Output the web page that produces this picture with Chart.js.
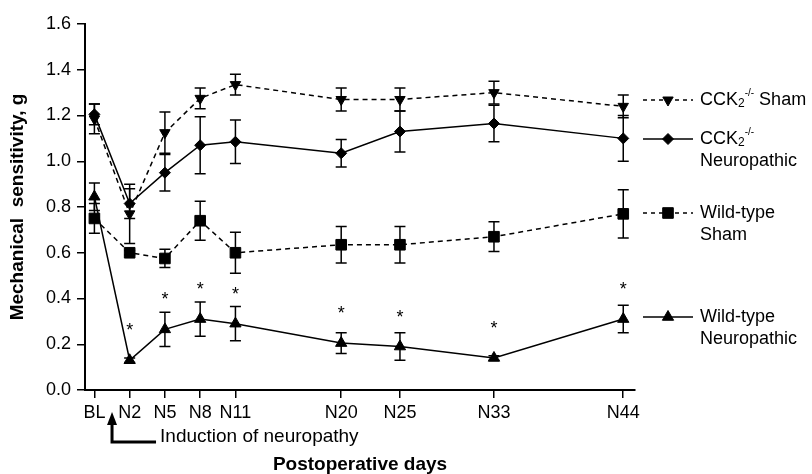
<!DOCTYPE html>
<html>
<head>
<meta charset="utf-8">
<script src="https://cdn.jsdelivr.net/npm/chart.js"></script>
<style>
  body { margin: 0; background: #fff; }
  canvas { display: block; }
</style>
</head>
<body>
<canvas id="chart" width="812" height="474"></canvas>
<script>
// Postoperative days (BL plotted one day before surgery)
const days = [-1, 2, 5, 8, 11, 20, 25, 33, 44];
const dayLabels = ['BL', 'N2', 'N5', 'N8', 'N11', 'N20', 'N25', 'N33', 'N44'];
const yTicks = [0, 0.2, 0.4, 0.6, 0.8, 1.0, 1.2, 1.4, 1.6];

// mean and SEM, g
const cckSham = [1.185, 0.77, 1.125, 1.275, 1.335, 1.27, 1.27, 1.30, 1.24];
const cckShamErr = [0.065, 0.13, 0.09, 0.045, 0.045, 0.05, 0.05, 0.05, 0.05];
const cckNeuro = [1.205, 0.815, 0.95, 1.07, 1.085, 1.035, 1.13, 1.165, 1.10];
const cckNeuroErr = [0.045, 0.065, 0.08, 0.125, 0.095, 0.06, 0.09, 0.08, 0.10];
const wtSham = [0.75, 0.60, 0.575, 0.74, 0.60, 0.635, 0.635, 0.67, 0.77];
const wtShamErr = [0.065, 0.01, 0.04, 0.085, 0.09, 0.08, 0.08, 0.065, 0.105];
const wtNeuro = [0.845, 0.13, 0.265, 0.31, 0.29, 0.205, 0.19, 0.14, 0.31];
const wtNeuroErr = [0.06, 0.01, 0.075, 0.075, 0.075, 0.045, 0.06, 0.01, 0.06];
// significance marks (*) for wild-type neuropathic
const wtNeuroSig = [0, 1, 1, 1, 1, 1, 1, 1, 1];

const FONT = "'Liberation Sans', Arial, sans-serif";
const DASH = [5, 4];

const series = [
  {values: cckSham, err: cckShamErr, style: 'triangle', rot: 180, r: 6, dash: DASH,
   legend: [[{t: 'CCK'}, {t: '2', sub: true}, {t: '-/-', sup: true}, {t: ' Sham'}]], ly: 100},
  {values: cckNeuro, err: cckNeuroErr, style: 'rectRot', rot: 0, r: 5.5, dash: [],
   legend: [[{t: 'CCK'}, {t: '2', sub: true}, {t: '-/-', sup: true}], [{t: 'Neuropathic'}]], ly: 139},
  {values: wtSham, err: wtShamErr, style: 'rect', rot: 0, r: 7.5, dash: DASH,
   legend: [[{t: 'Wild-type'}], [{t: 'Sham'}]], ly: 213},
  {values: wtNeuro, err: wtNeuroErr, sig: wtNeuroSig, style: 'triangle', rot: 0, r: 6.5, dash: [],
   legend: [[{t: 'Wild-type'}], [{t: 'Neuropathic'}]], ly: 317}
];

function drawMarker(ctx, s, x, y) {
  if (Chart.helpers && Chart.helpers.drawPoint) {
    ctx.fillStyle = '#000'; ctx.strokeStyle = '#000'; ctx.lineWidth = 1;
    ctx.setLineDash([]);
    Chart.helpers.drawPoint(ctx, {pointStyle: s.style, rotation: s.rot, radius: s.r, borderWidth: 1}, x, y);
  }
}

function drawRich(ctx, x, y, parts) {
  ctx.textAlign = 'left';
  ctx.textBaseline = 'middle';
  for (const p of parts) {
    let dy = 0;
    if (p.sub) { ctx.font = '12px ' + FONT; dy = 4; }
    else if (p.sup) { ctx.font = '10px ' + FONT; dy = -7; }
    else ctx.font = '18px ' + FONT;
    ctx.fillText(p.t, x, y + dy);
    x += ctx.measureText(p.t).width;
  }
}

const extras = {
  id: 'extras',
  afterDatasetsDraw(chart) {
    const ctx = chart.ctx;
    const xs = chart.scales.x, ys = chart.scales.y;
    ctx.save();
    ctx.strokeStyle = '#000';
    ctx.fillStyle = '#000';

    // error bars
    ctx.lineWidth = 1.5;
    ctx.setLineDash([]);
    series.forEach(s => {
      s.values.forEach((v, i) => {
        const x = xs.getPixelForValue(days[i]);
        const yt = ys.getPixelForValue(v + s.err[i]);
        const yb = ys.getPixelForValue(v - s.err[i]);
        ctx.beginPath();
        ctx.moveTo(x, yt); ctx.lineTo(x, yb);
        ctx.moveTo(x - 5.5, yt); ctx.lineTo(x + 5.5, yt);
        ctx.moveTo(x - 5.5, yb); ctx.lineTo(x + 5.5, yb);
        ctx.stroke();
      });
      if (s.sig) {
        ctx.font = '18px ' + FONT;
        ctx.textAlign = 'center';
        ctx.textBaseline = 'middle';
        s.sig.forEach((f, i) => {
          if (!f) return;
          const top = Math.max(s.values[i] + s.err[i], s.values[i] + 0.1);
          ctx.fillText('*', xs.getPixelForValue(days[i]), ys.getPixelForValue(top) - 6);
        });
      }
    });

    // legend on the right
    const lx0 = 643, lx1 = 693, tx = 700;
    series.forEach(s => {
      ctx.lineWidth = 1.5;
      ctx.setLineDash(s.dash.length ? [4, 4] : []);
      ctx.beginPath();
      ctx.moveTo(lx0, s.ly); ctx.lineTo(lx1, s.ly);
      ctx.stroke();
      drawMarker(ctx, s, (lx0 + lx1) / 2, s.ly);
      ctx.fillStyle = '#000';
      s.legend.forEach((line, k) => drawRich(ctx, tx, s.ly + k * 22, line));
    });

    // induction arrow
    const ax = xs.getPixelForValue(0.5);
    const b = chart.chartArea.bottom;
    ctx.setLineDash([]);
    ctx.lineWidth = 3;
    ctx.beginPath();
    ctx.moveTo(ax, b + 32); ctx.lineTo(ax, b + 52); ctx.lineTo(ax + 44, b + 52);
    ctx.stroke();
    ctx.beginPath();
    ctx.moveTo(ax, b + 22); ctx.lineTo(ax - 5, b + 35); ctx.lineTo(ax + 5, b + 35);
    ctx.closePath();
    ctx.fill();
    ctx.font = '19px ' + FONT;
    ctx.textAlign = 'left';
    ctx.textBaseline = 'middle';
    ctx.fillText('Induction of neuropathy', ax + 48, b + 47);
    ctx.restore();
  }
};

new Chart(document.getElementById('chart'), {
  type: 'line',
  data: {
    datasets: series.map(s => ({
      data: days.map((d, i) => ({x: d, y: s.values[i]})),
      borderColor: '#000',
      borderWidth: 1.5,
      borderDash: s.dash,
      tension: 0,
      pointStyle: s.style,
      pointRotation: s.rot,
      pointRadius: s.r,
      pointBackgroundColor: '#000',
      pointBorderColor: '#000',
      pointBorderWidth: 1
    }))
  },
  options: {
    responsive: false,
    animation: false,
    devicePixelRatio: 1,
    layout: {padding: {top: 24, right: 177, left: 0, bottom: 0}},
    plugins: {legend: {display: false}, tooltip: {enabled: false}},
    scales: {
      x: {
        type: 'linear',
        min: -1.8, max: 45,
        afterFit: sc => { sc.height = 84; },
        afterBuildTicks: sc => { sc.ticks = days.map(d => ({value: d})); },
        ticks: {
          autoSkip: false, maxRotation: 0, padding: 4, color: '#000',
          font: {family: FONT, size: 18},
          callback: (v, i) => dayLabels[i]
        },
        grid: {drawOnChartArea: false, tickLength: 8, color: '#000', lineWidth: 1.5},
        border: {color: '#000', width: 2},
        title: {
          display: true, text: 'Postoperative days', color: '#000',
          font: {family: FONT, size: 19, weight: 'bold', lineHeight: 1},
          padding: {top: 0, bottom: 0}
        }
      },
      y: {
        min: 0, max: 1.6,
        afterFit: sc => { sc.width = 85; },
        afterBuildTicks: sc => { sc.ticks = yTicks.map(v => ({value: v})); },
        ticks: {
          padding: 6, color: '#000',
          font: {family: FONT, size: 18},
          callback: v => v.toFixed(1)
        },
        grid: {drawOnChartArea: false, tickLength: 8, color: '#000', lineWidth: 1.5},
        border: {color: '#000', width: 2},
        title: {
          display: true, text: 'Mechanical  sensitivity, g', color: '#000',
          font: {family: FONT, size: 19, weight: 'bold', lineHeight: 1.2},
          padding: {top: 6, bottom: 0}
        }
      }
    }
  },
  plugins: [extras]
});
</script>
</body>
</html>
